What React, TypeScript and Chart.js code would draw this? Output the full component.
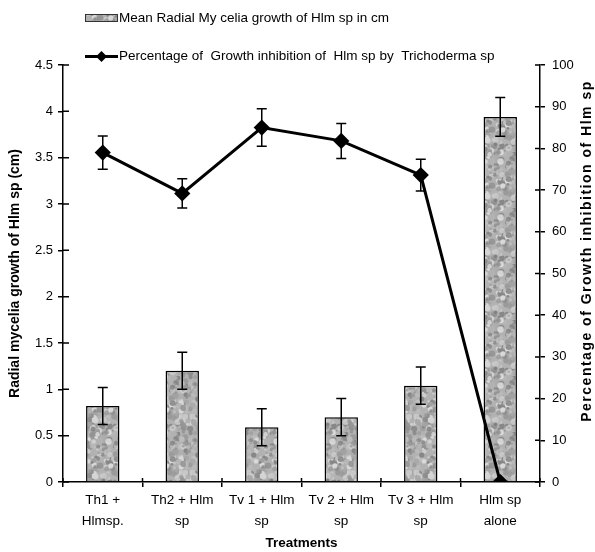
import { useEffect, useRef } from 'react';
import { Chart, registerables } from 'chart.js';

Chart.register(...registerables);

const categories: string[][] = [
  ['Th1 +', 'Hlmsp.'],
  ['Th2 + Hlm', 'sp'],
  ['Tv 1 + Hlm', 'sp'],
  ['Tv 2 + Hlm', 'sp'],
  ['Tv 3 + Hlm', 'sp'],
  ['Hlm sp', 'alone'],
];
const barValues = [0.82, 1.2, 0.59, 0.7, 1.04, 3.94];
const barErrors = [0.2, 0.2, 0.2, 0.2, 0.2, 0.21];
const lineValues = [79, 69.2, 85, 81.8, 73.6, 0];
const lineErrors = [4, 3.5, 4.5, 4.2, 3.8, 0];

const barLabel = 'Mean Radial My celia growth of Hlm sp in cm';
const lineLabel = 'Percentage of  Growth inhibition of  Hlm sp by  Trichoderma sp';
const leftTitle = 'Radial mycelia growth of Hlm sp (cm)';
const rightTitle = 'Percentage of Growth inhibition of Hlm sp';
const xTitle = 'Treatments';

const FAMILY = "'Liberation Sans', Arial, sans-serif";

function makePattern(ctx: CanvasRenderingContext2D): CanvasPattern | string {
  const N = 56;
  const c = document.createElement('canvas');
  c.width = N;
  c.height = N;
  const g = c.getContext('2d');
  if (!g) return '#b0b0b0';
  g.fillStyle = '#b2b2b2';
  g.fillRect(0, 0, N, N);
  let s = 987654321;
  const rnd = () => {
    s = (Math.imul(s, 1103515245) + 12345) >>> 0;
    return s / 4294967296;
  };
  for (let i = 0; i < 260; i++) {
    const x = rnd() * N;
    const y = rnd() * N;
    const r = 1 + rnd() * 2.2;
    const v = Math.floor(125 + rnd() * 100);
    g.fillStyle = `rgba(${v},${v},${v},0.85)`;
    for (const dx of [-N, 0, N]) {
      for (const dy of [-N, 0, N]) {
        g.beginPath();
        g.arc(x + dx, y + dy, r, 0, Math.PI * 2);
        g.fill();
      }
    }
  }
  return ctx.createPattern(c, 'repeat') || '#b0b0b0';
}

export default function App() {
  const ref = useRef<HTMLCanvasElement | null>(null);

  useEffect(() => {
    const canvas = ref.current;
    if (!canvas) return;
    const ctx = canvas.getContext('2d');
    if (!ctx) return;
    Chart.defaults.font.family = FAMILY;
    const pattern = makePattern(ctx);

    const extras = {
      id: 'extras',
      afterDatasetsDraw(chart: any) {
        const c = chart.ctx as CanvasRenderingContext2D;
        const y = chart.scales.y;
        const y1 = chart.scales.y1;
        c.save();
        c.strokeStyle = '#000';
        c.lineWidth = 1.5;
        const cap = 5;
        const drawErr = (meta: any, vals: number[], errs: number[], sc: any) => {
          meta.data.forEach((el: any, i: number) => {
            if (!errs[i]) return;
            const x = el.x;
            const top = sc.getPixelForValue(vals[i] + errs[i]);
            const bot = sc.getPixelForValue(vals[i] - errs[i]);
            c.beginPath();
            c.moveTo(x, top);
            c.lineTo(x, bot);
            c.moveTo(x - cap, top);
            c.lineTo(x + cap, top);
            c.moveTo(x - cap, bot);
            c.lineTo(x + cap, bot);
            c.stroke();
          });
        };
        drawErr(chart.getDatasetMeta(0), barValues, barErrors, y);
        drawErr(chart.getDatasetMeta(1), lineValues, lineErrors, y1);
        c.restore();
      },
      afterDraw(chart: any) {
        const c = chart.ctx as CanvasRenderingContext2D;
        const a = chart.chartArea;
        const y = chart.scales.y;
        const y1 = chart.scales.y1;
        c.save();
        c.strokeStyle = '#000';
        c.lineWidth = 1.5;
        c.beginPath();
        y.ticks.forEach((t: any) => {
          const py = y.getPixelForValue(t.value);
          c.moveTo(a.left, py);
          c.lineTo(a.left + 6, py);
        });
        y1.ticks.forEach((t: any) => {
          const py = y1.getPixelForValue(t.value);
          c.moveTo(a.right - 5, py);
          c.lineTo(a.right, py);
        });
        const n = categories.length;
        for (let i = 0; i <= n; i++) {
          const px = a.left + (i * (a.right - a.left)) / n;
          c.moveTo(px, a.bottom - 4);
          c.lineTo(px, a.bottom);
        }
        c.stroke();

        // right axis title (reads bottom to top)
        c.translate(587, 251);
        c.rotate(-Math.PI / 2);
        c.fillStyle = '#000';
        c.font = `bold 14px ${FAMILY}`;
        c.textAlign = 'center';
        c.textBaseline = 'middle';
        try {
          (c as any).letterSpacing = '1.5px';
        } catch (e) {}
        c.fillText(rightTitle, 0, 0);
        c.restore();

        // legend
        c.save();
        c.fillStyle = pattern as any;
        c.fillRect(85, 14, 33, 8);
        c.strokeStyle = '#333';
        c.lineWidth = 1;
        c.strokeRect(85.5, 14.5, 32, 7);
        c.strokeStyle = '#000';
        c.lineWidth = 3;
        c.beginPath();
        c.moveTo(85, 56.5);
        c.lineTo(118, 56.5);
        c.stroke();
        c.fillStyle = '#000';
        c.beginPath();
        c.moveTo(101.5, 51);
        c.lineTo(107, 56.5);
        c.lineTo(101.5, 62);
        c.lineTo(96, 56.5);
        c.closePath();
        c.fill();
        c.font = `13.5px ${FAMILY}`;
        c.textAlign = 'left';
        c.textBaseline = 'middle';
        c.fillText(barLabel, 119, 18);
        c.fillText(lineLabel, 119, 56.5);
        c.restore();
      },
    };

    const tickFont = { family: FAMILY, size: 13 };
    const plainNum = (v: any) => `${Number(v)}`;
    const chart = new Chart(canvas, {
      type: 'bar',
      data: {
        labels: categories,
        datasets: [
          {
            type: 'bar',
            label: barLabel,
            data: barValues,
            yAxisID: 'y',
            backgroundColor: pattern as any,
            borderColor: '#000',
            borderWidth: 1.5,
            barPercentage: 0.42,
            categoryPercentage: 1,
            order: 2,
          },
          {
            type: 'line',
            label: lineLabel,
            data: lineValues,
            yAxisID: 'y1',
            borderColor: '#000',
            backgroundColor: '#000',
            borderWidth: 3,
            pointStyle: 'rectRot',
            pointRadius: 6,
            pointBackgroundColor: '#000',
            pointBorderColor: '#000',
            tension: 0,
            fill: false,
            order: 1,
          } as any,
        ],
      },
      options: {
        animation: false,
        responsive: false,
        layout: { padding: { top: 65, left: 0, right: 0, bottom: 0 } },
        plugins: {
          legend: { display: false },
          tooltip: { enabled: false },
        },
        scales: {
          x: {
            type: 'category',
            offset: true,
            grid: {
              offset: true,
              drawOnChartArea: false,
              drawTicks: true,
              tickLength: 5,
              color: '#000',
              lineWidth: 1.5,
            },
            border: { display: true, color: '#000', width: 1.5 },
            ticks: {
              color: '#000',
              font: { family: FAMILY, size: 13.5, lineHeight: 1.55 },
              padding: 3,
              maxRotation: 0,
              autoSkip: false,
            },
            title: {
              display: true,
              text: xTitle,
              color: '#000',
              font: { family: FAMILY, size: 13.5, weight: 'bold' },
              padding: { top: 0, bottom: 1 },
            },
            afterFit: (s: any) => {
              s.height = 70;
            },
          },
          y: {
            type: 'linear',
            position: 'left',
            min: 0,
            max: 4.5,
            ticks: { stepSize: 0.5, color: '#000', font: tickFont, padding: 5, callback: plainNum },
            grid: {
              drawOnChartArea: false,
              drawTicks: true,
              tickLength: 5,
              color: '#000',
              lineWidth: 1.5,
            },
            border: { display: true, color: '#000', width: 1.5 },
            title: {
              display: true,
              text: leftTitle,
              color: '#000',
              font: { family: FAMILY, size: 14, weight: 'bold' },
              padding: { top: 7, bottom: 0 },
            },
            afterFit: (s: any) => {
              s.width = 63;
            },
          },
          y1: {
            type: 'linear',
            position: 'right',
            min: 0,
            max: 100,
            ticks: { stepSize: 10, color: '#000', font: tickFont, padding: 7, callback: plainNum },
            grid: {
              drawOnChartArea: false,
              drawTicks: true,
              tickLength: 5,
              color: '#000',
              lineWidth: 1.5,
            },
            border: { display: true, color: '#000', width: 1.5 },
            afterFit: (s: any) => {
              s.width = 55;
            },
          },
        },
      } as any,
      plugins: [extras],
    });

    return () => {
      chart.destroy();
    };
  }, []);

  return (
    <canvas
      ref={ref}
      width={595}
      height={552}
      style={{ position: 'fixed', left: 0, top: 0, display: 'block', background: '#fff' }}
    />
  );
}
